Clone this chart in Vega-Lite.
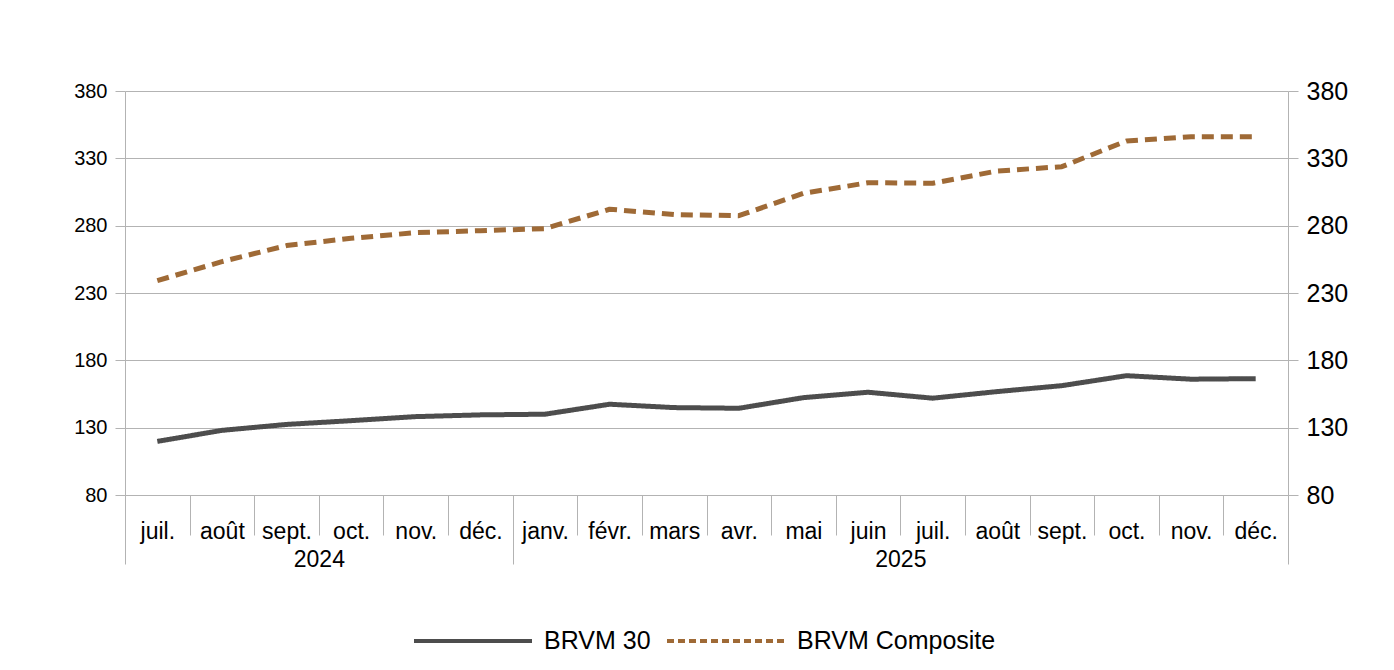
{
  "$schema": "https://vega.github.io/schema/vega-lite/v6.json",
  "width": 1163,
  "height": 404,
  "autosize": "none",
  "padding": {"left": 125, "top": 91, "right": 106, "bottom": 175},
  "background": "white",
  "config": {"view": {"stroke": null}, "font": "Liberation Sans"},
  "datasets": {
    "indices": [
      {"mois": "juil. 2024", "serie": "BRVM 30", "valeur": 119.8},
      {"mois": "août 2024", "serie": "BRVM 30", "valeur": 128.0},
      {"mois": "sept. 2024", "serie": "BRVM 30", "valeur": 132.4},
      {"mois": "oct. 2024", "serie": "BRVM 30", "valeur": 135.2},
      {"mois": "nov. 2024", "serie": "BRVM 30", "valeur": 138.2},
      {"mois": "déc. 2024", "serie": "BRVM 30", "valeur": 139.5},
      {"mois": "janv. 2025", "serie": "BRVM 30", "valeur": 140.0},
      {"mois": "févr. 2025", "serie": "BRVM 30", "valeur": 147.4},
      {"mois": "mars 2025", "serie": "BRVM 30", "valeur": 144.9},
      {"mois": "avr. 2025", "serie": "BRVM 30", "valeur": 144.4},
      {"mois": "mai 2025", "serie": "BRVM 30", "valeur": 152.3},
      {"mois": "juin 2025", "serie": "BRVM 30", "valeur": 156.3},
      {"mois": "juil. 2025", "serie": "BRVM 30", "valeur": 151.9},
      {"mois": "août 2025", "serie": "BRVM 30", "valeur": 156.8},
      {"mois": "sept. 2025", "serie": "BRVM 30", "valeur": 161.2},
      {"mois": "oct. 2025", "serie": "BRVM 30", "valeur": 168.6},
      {"mois": "nov. 2025", "serie": "BRVM 30", "valeur": 166.0},
      {"mois": "déc. 2025", "serie": "BRVM 30", "valeur": 166.4},
      {"mois": "juil. 2024", "serie": "BRVM Composite", "valeur": 239.2},
      {"mois": "août 2024", "serie": "BRVM Composite", "valeur": 253.3},
      {"mois": "sept. 2024", "serie": "BRVM Composite", "valeur": 265.2},
      {"mois": "oct. 2024", "serie": "BRVM Composite", "valeur": 270.6},
      {"mois": "nov. 2024", "serie": "BRVM Composite", "valeur": 274.8},
      {"mois": "déc. 2024", "serie": "BRVM Composite", "valeur": 276.3},
      {"mois": "janv. 2025", "serie": "BRVM Composite", "valeur": 277.8},
      {"mois": "févr. 2025", "serie": "BRVM Composite", "valeur": 292.2},
      {"mois": "mars 2025", "serie": "BRVM Composite", "valeur": 288.2},
      {"mois": "avr. 2025", "serie": "BRVM Composite", "valeur": 287.4},
      {"mois": "mai 2025", "serie": "BRVM Composite", "valeur": 304.0},
      {"mois": "juin 2025", "serie": "BRVM Composite", "valeur": 311.9},
      {"mois": "juil. 2025", "serie": "BRVM Composite", "valeur": 311.5},
      {"mois": "août 2025", "serie": "BRVM Composite", "valeur": 320.6},
      {"mois": "sept. 2025", "serie": "BRVM Composite", "valeur": 323.8},
      {"mois": "oct. 2025", "serie": "BRVM Composite", "valeur": 342.9},
      {"mois": "nov. 2025", "serie": "BRVM Composite", "valeur": 346.1},
      {"mois": "déc. 2025", "serie": "BRVM Composite", "valeur": 346.1}
    ],
    "annees": [
      {"annee": "2024", "debut": 0, "fin": 6},
      {"annee": "2025", "debut": 6, "fin": 18}
    ]
  },
  "layer": [
    {
      "data": {"name": "indices"},
      "transform": [{"filter": "datum.serie === 'BRVM 30'"}],
      "mark": {"type": "line", "strokeWidth": 5, "strokeCap": "butt", "strokeJoin": "round"},
      "encoding": {
        "x": {
          "field": "mois", "type": "ordinal", "sort": null, "bandPosition": 0.5,
          "scale": {"type": "band", "paddingInner": 0, "paddingOuter": 0},
          "axis": {
            "orient": "bottom", "title": null, "domain": false, "grid": false,
            "tickBand": "extent", "tickSize": 40, "tickColor": "#b3b3b3", "tickWidth": 1,
            "labelAngle": 0, "labelFontSize": 23, "labelColor": "#000000",
            "labelPadding": 3, "labelBaseline": "alphabetic",
            "labelExpr": "split(datum.label, ' ')[0]"
          }
        },
        "y": {
          "field": "valeur", "type": "quantitative",
          "scale": {"domain": [80, 380], "nice": false, "zero": false},
          "axis": {
            "orient": "left", "title": null, "values": [80, 130, 180, 230, 280, 330, 380],
            "grid": true, "gridColor": "#b3b3b3", "domainColor": "#b3b3b3",
            "tickColor": "#b3b3b3", "tickSize": 10, "labelFontSize": 20,
            "labelPadding": 8, "labelColor": "#000000"
          }
        },
        "color": {
          "field": "serie", "type": "nominal",
          "scale": {"domain": ["BRVM 30", "BRVM Composite"], "range": ["#4d4d4d", "#9f6a36"]},
          "legend": {
            "title": null, "orient": "none", "legendX": 287, "legendY": 489,
            "direction": "horizontal", "symbolType": "stroke", "symbolSize": 13924,
            "symbolStrokeWidth": 4, "labelFontSize": 25, "labelColor": "#000000",
            "labelOffset": 10, "columnPadding": 8, "labelLimit": 400, "padding": 0
          }
        },
        "strokeDash": {
          "field": "serie", "type": "nominal",
          "scale": {"domain": ["BRVM 30", "BRVM Composite"], "range": [[1, 0], [7, 4]]},
          "legend": {
            "title": null, "orient": "none", "legendX": 287, "legendY": 489,
            "direction": "horizontal", "symbolType": "stroke", "symbolSize": 13924,
            "symbolStrokeWidth": 4, "labelFontSize": 25, "labelColor": "#000000",
            "labelOffset": 10, "columnPadding": 8, "labelLimit": 400, "padding": 0
          }
        }
      }
    },
    {
      "data": {"name": "indices"},
      "transform": [{"filter": "datum.serie === 'BRVM Composite'"}],
      "mark": {"type": "line", "strokeWidth": 5, "strokeCap": "butt", "strokeJoin": "round", "strokeDash": [12, 7]},
      "encoding": {
        "x": {
          "field": "mois", "type": "ordinal", "sort": null, "bandPosition": 0.5,
          "scale": {"type": "band", "paddingInner": 0, "paddingOuter": 0},
          "axis": null
        },
        "y": {
          "field": "valeur", "type": "quantitative",
          "scale": {"domain": [80, 380], "nice": false, "zero": false},
          "axis": {
            "orient": "right", "title": null, "values": [80, 130, 180, 230, 280, 330, 380],
            "grid": false, "domainColor": "#b3b3b3", "tickColor": "#b3b3b3",
            "tickSize": 10, "labelFontSize": 25, "labelPadding": 8, "labelColor": "#000000"
          }
        },
        "color": {"field": "serie", "type": "nominal"}
      }
    },
    {
      "data": {"name": "annees"},
      "mark": {"type": "point", "opacity": 0},
      "encoding": {
        "x": {
          "field": "debut", "type": "quantitative",
          "scale": {"domain": [0, 18], "nice": false, "zero": false},
          "axis": {
            "orient": "bottom", "title": null, "values": [0, 3, 6, 12, 18],
            "domain": false, "grid": false, "tickSize": 69, "tickColor": "#b3b3b3",
            "tickOpacity": {"condition": {"test": "datum.value == 3 || datum.value == 12", "value": 0}, "value": 1},
            "labelExpr": "datum.value == 3 ? '2024' : datum.value == 12 ? '2025' : ''",
            "labelFontSize": 23, "labelPadding": 2, "labelBaseline": "alphabetic",
            "labelFlush": false, "labelOverlap": false, "labelColor": "#000000"
          }
        }
      }
    }
  ],
  "resolve": {"scale": {"x": "independent", "y": "independent", "color": "shared", "strokeDash": "shared"}}
}
